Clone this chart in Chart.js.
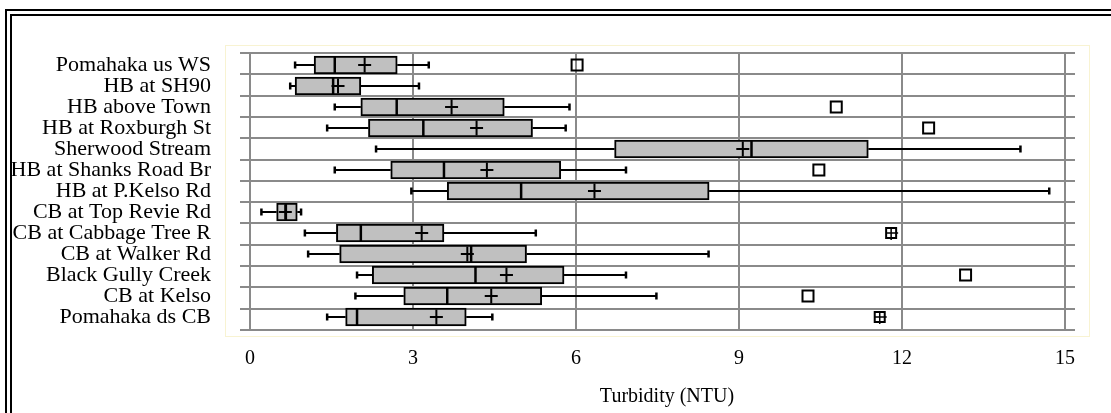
<!DOCTYPE html>
<html>
<head>
<meta charset="utf-8">
<title>Turbidity by site</title>
<script src="https://cdn.jsdelivr.net/npm/chart.js@4.4.1/dist/chart.umd.min.js"></script>
<style>
  html, body { margin: 0; padding: 0; background: #fff; }
  canvas { display: block; }
</style>
</head>
<body>
<canvas id="turbidityChart" width="1111" height="413"></canvas>
<script>
// Turbidity summary per sampling site (NTU)
const sites = [
  'Pomahaka us WS', 'HB at SH90', 'HB above Town', 'HB at Roxburgh St',
  'Sherwood Stream', 'HB at Shanks Road Br', 'HB at P.Kelso Rd', 'CB at Top Revie Rd',
  'CB at Cabbage Tree R', 'CB at Walker Rd', 'Black Gully Creek', 'CB at Kelso', 'Pomahaka ds CB'
];
const whiskerLow  = [0.83, 0.74, 1.56, 1.42, 2.32, 1.56, 2.97, 0.21, 1.01, 1.07, 1.97, 1.94, 1.42];
const quartile1   = [1.18, 0.83, 2.04, 2.18, 6.71, 2.59, 3.63, 0.49, 1.59, 1.65, 2.25, 2.83, 1.76];
const medians     = [1.56, 1.53, 2.70, 3.19, 9.23, 3.57, 4.99, 0.66, 2.04, 4.07, 4.15, 3.63, 1.97];
const means       = [2.11, 1.62, 3.71, 4.17, 9.07, 4.36, 6.34, 0.65, 3.16, 4.00, 4.72, 4.44, 3.43];
const quartile3   = [2.71, 2.04, 4.68, 5.20, 11.38, 5.72, 8.45, 0.87, 3.57, 5.09, 5.78, 5.37, 3.98];
const whiskerHigh = [3.29, 3.11, 5.88, 5.81, 14.18, 6.92, 14.71, 0.94, 5.26, 8.44, 6.92, 7.48, 4.46];
const outliers    = [6.02, null, 10.79, 12.49, null, 10.47, null, null, null, null, 13.17, 10.27, null];
const extremes    = [null, null, null, null, null, null, null, null, 11.80, null, null, null, 11.59];
const xTicks = [0, 3, 6, 9, 12, 15];
const xTitle = 'Turbidity (NTU)';

const serif = 'Liberation Serif';

// fixed ranges: value axis pads 10px past 0 and 15, row axis leaves room above/below the first/last site
const xMin = -10 / 54.333, xMax = 15 + 10 / 54.333;
const yMin = -12 / 21, yMax = 12 + 13 / 21;

// page frame, pale plot outline and the axis title
const framePlugin = {
  id: 'frame',
  beforeDraw(chart) {
    const ctx = chart.ctx;
    ctx.save();
    ctx.fillStyle = '#fff';
    ctx.fillRect(0, 0, chart.width, chart.height);
    ctx.fillStyle = '#000';
    ctx.fillRect(5, 9, 2, chart.height);
    ctx.fillRect(5, 9, chart.width, 2);
    ctx.fillRect(10, 14, 2, chart.height);
    ctx.fillRect(10, 14, chart.width, 2);
    ctx.strokeStyle = '#f8f3d2';
    ctx.lineWidth = 1;
    ctx.strokeRect(225.5, 45.5, 864, 291);
    ctx.restore();
  },
  afterDraw(chart) {
    const ctx = chart.ctx;
    ctx.save();
    ctx.fillStyle = '#000';
    ctx.font = '20px "' + serif + '"';
    ctx.textAlign = 'center';
    ctx.textBaseline = 'alphabetic';
    ctx.fillText(xTitle, 667, 402);
    ctx.restore();
  }
};

// whiskers, medians, means and outliers around the quartile boxes
const boxMarks = {
  id: 'boxMarks',
  beforeDatasetsDraw(chart) {
    const ctx = chart.ctx;
    const xs = chart.scales.x, ys = chart.scales.y;
    ctx.save();
    ctx.strokeStyle = '#000';
    sites.forEach((s, i) => {
      const py = Math.round(ys.getPixelForValue(i));
      const lo = xs.getPixelForValue(whiskerLow[i]);
      const hi = xs.getPixelForValue(whiskerHigh[i]);
      ctx.lineWidth = 2;
      ctx.beginPath();
      ctx.moveTo(lo, py); ctx.lineTo(xs.getPixelForValue(quartile1[i]), py);
      ctx.moveTo(xs.getPixelForValue(quartile3[i]), py); ctx.lineTo(hi, py);
      ctx.stroke();
      ctx.lineWidth = 2.5;
      ctx.beginPath();
      ctx.moveTo(lo, py - 3.5); ctx.lineTo(lo, py + 3.5);
      ctx.moveTo(hi, py - 3.5); ctx.lineTo(hi, py + 3.5);
      ctx.stroke();
    });
    ctx.restore();
  },
  afterDatasetsDraw(chart) {
    const ctx = chart.ctx;
    const xs = chart.scales.x, ys = chart.scales.y;
    ctx.save();
    ctx.strokeStyle = '#000';
    sites.forEach((s, i) => {
      const py = Math.round(ys.getPixelForValue(i));
      // median
      const pm = xs.getPixelForValue(medians[i]);
      ctx.lineWidth = 2.5;
      ctx.beginPath();
      ctx.moveTo(pm, py - 9); ctx.lineTo(pm, py + 9);
      ctx.stroke();
      // mean
      const pa = xs.getPixelForValue(means[i]);
      ctx.lineWidth = 2;
      ctx.beginPath();
      ctx.moveTo(pa - 6.5, py); ctx.lineTo(pa + 6.5, py);
      ctx.moveTo(pa, py - 7.5); ctx.lineTo(pa, py + 7.5);
      ctx.stroke();
      // outliers
      if (outliers[i] !== null) {
        const po = xs.getPixelForValue(outliers[i]);
        ctx.lineWidth = 2;
        ctx.strokeRect(po - 5.5, py - 5.5, 11, 11);
      }
      if (extremes[i] !== null) {
        const pe = xs.getPixelForValue(extremes[i]);
        ctx.lineWidth = 2;
        ctx.strokeRect(pe - 5, py - 5, 10, 10);
        ctx.lineWidth = 1.5;
        ctx.beginPath();
        ctx.moveTo(pe - 5, py); ctx.lineTo(pe + 7, py);
        ctx.moveTo(pe, py - 5); ctx.lineTo(pe, py + 7);
        ctx.stroke();
      }
    });
    ctx.restore();
  }
};

new Chart(document.getElementById('turbidityChart').getContext('2d'), {
  type: 'bar',
  data: {
    datasets: [{
      data: sites.map((s, i) => ({ y: i, x: [quartile1[i], quartile3[i]] })),
      backgroundColor: '#c0c0c0',
      borderColor: '#000',
      borderWidth: 2,
      borderSkipped: false,
      barThickness: 18
    }]
  },
  options: {
    indexAxis: 'y',
    responsive: false,
    animation: false,
    devicePixelRatio: 1,
    layout: { padding: { top: 53, right: 36, bottom: 0, left: 0 } },
    plugins: { legend: { display: false }, tooltip: { enabled: false } },
    scales: {
      x: {
        type: 'linear',
        min: xMin,
        max: xMax,
        afterBuildTicks: (scale) => {
          scale.ticks = xTicks.map(v => ({ value: v }));
          scale.min = xMin;
          scale.max = xMax;
        },
        afterFit: (scale) => { scale.height = 83; },
        grid: { color: '#8a8a8a', lineWidth: 2, drawTicks: false },
        border: { display: false },
        ticks: { color: '#000', font: { family: serif, size: 20 }, padding: 17, maxRotation: 0 }
      },
      y: {
        type: 'linear',
        reverse: true,
        offset: false,
        min: yMin,
        max: yMax,
        afterBuildTicks: (scale) => {
          scale.ticks = sites.map((s, i) => ({ value: i }));
          scale.min = yMin;
          scale.max = yMax;
        },
        afterFit: (scale) => { scale.width = 240; },
        grid: { display: false, drawTicks: false, offset: false },
        border: { display: false },
        ticks: {
          color: '#000',
          autoSkip: false,
          padding: 29,
          font: { family: serif, size: 22 },
          callback: (v) => sites[v]
        }
      },
      rows: {
        type: 'linear',
        position: 'right',
        min: 0,
        max: 12,
        afterBuildTicks: (scale) => {
          scale.ticks = Array.from({ length: 13 }, (_, k) => ({ value: k }));
          scale.min = 0;
          scale.max = 12;
        },
        afterFit: (scale) => { scale.width = 0; },
        grid: { color: '#8a8a8a', lineWidth: 2, drawTicks: false },
        border: { display: false },
        ticks: { display: false }
      }
    }
  },
  plugins: [framePlugin, boxMarks]
});
</script>
</body>
</html>
